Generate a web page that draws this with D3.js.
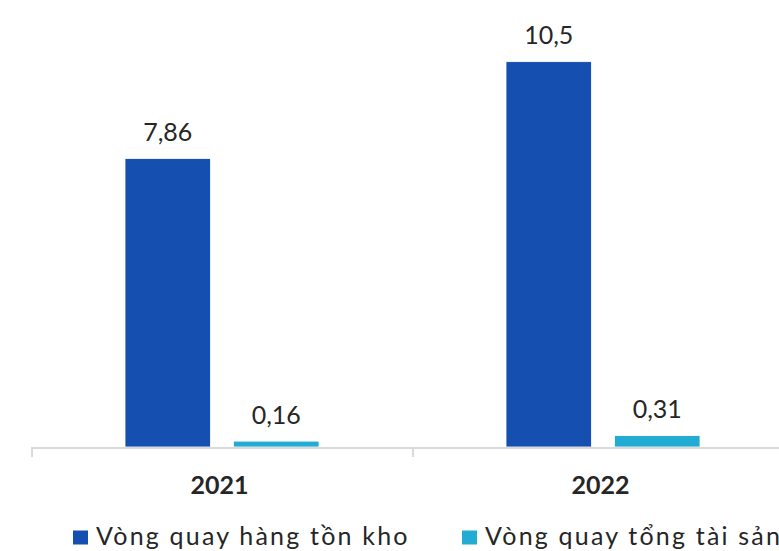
<!DOCTYPE html>
<html>
<head>
<meta charset="utf-8">
<script src="https://cdn.jsdelivr.net/npm/d3@7/dist/d3.min.js"></script>
<style>
  html, body { margin: 0; padding: 0; background: #ffffff; overflow: hidden; }
  svg { display: block; }
</style>
</head>
<body>
<svg id="chart" width="779" height="551"></svg>
<script>
const categories = ["2021", "2022"];
const seriesNames = ["Vòng quay hàng tồn kho", "Vòng quay tổng tài sản"];
const inventoryTurnover = [7.86, 10.5];
const assetTurnover = [0.16, 0.31];
const valueLabels = [["7,86", "10,5"], ["0,16", "0,31"]];
const colors = ["#154FAF", "#22ABD3"];

const series = [inventoryTurnover, assetTurnover];
const svg = d3.select("#chart");
const font = "Lato, 'Open Sans', sans-serif";
const textColor = "#262626";

const baseY = 447;
const x = d3.scaleBand().domain(categories).range([31, 793]);
const xInner = d3.scaleBand().domain(seriesNames).range([94, 288]).paddingInner(0.212);
const y = d3.scaleLinear().domain([0, 12]).range([baseY, baseY - 12 * 36.7]);

// bars
seriesNames.forEach((name, si) => {
  const g = svg.append("g");
  g.selectAll("rect").data(categories).enter().append("rect")
    .attr("x", c => x(c) + xInner(name))
    .attr("width", xInner.bandwidth())
    .attr("y", (c, i) => y(series[si][i]))
    .attr("height", (c, i) => baseY - y(series[si][i]))
    .attr("fill", colors[si])
    .attr("stroke", "#ffffff")
    .attr("stroke-width", 0.8);
  g.selectAll("text").data(categories).enter().append("text")
    .attr("x", c => x(c) + xInner(name) + xInner.bandwidth() / 2)
    .attr("y", (c, i) => y(series[si][i]) - 17.5)
    .attr("text-anchor", "middle")
    .attr("font-family", font)
    .attr("font-size", 25)
    .attr("fill", textColor)
    .text((c, i) => valueLabels[si][i]);
});

// axis
const axis = svg.append("g");
axis.append("line")
  .attr("x1", x.range()[0]).attr("x2", x.range()[1])
  .attr("y1", baseY + 1).attr("y2", baseY + 1)
  .attr("stroke", "#d9d9d9").attr("stroke-width", 2);
const bounds = categories.map(c => x(c)).concat([x.range()[1]]);
axis.selectAll("line.tick").data(bounds).enter().append("line")
  .attr("class", "tick")
  .attr("x1", d => d + 1).attr("x2", d => d + 1)
  .attr("y1", baseY).attr("y2", baseY + 10)
  .attr("stroke", "#d9d9d9").attr("stroke-width", 2);
axis.selectAll("text").data(categories).enter().append("text")
  .attr("x", c => x(c) + x.bandwidth() / 2 - 2)
  .attr("y", 493.5)
  .attr("text-anchor", "middle")
  .attr("font-family", font)
  .attr("font-weight", "bold")
  .attr("font-size", 25)
  .attr("fill", textColor)
  .text(c => c);

// legend
const legendX = [73, 462];
const legend = svg.append("g");
seriesNames.forEach((name, i) => {
  legend.append("rect")
    .attr("x", legendX[i]).attr("y", 530.5)
    .attr("width", 15).attr("height", 14)
    .attr("fill", colors[i]);
  legend.append("text")
    .attr("x", legendX[i] + 23).attr("y", 544.5)
    .attr("font-family", font)
    .attr("font-size", 25)
    .attr("letter-spacing", 2.2)
    .attr("fill", textColor)
    .text(name);
});
</script>
</body>
</html>
